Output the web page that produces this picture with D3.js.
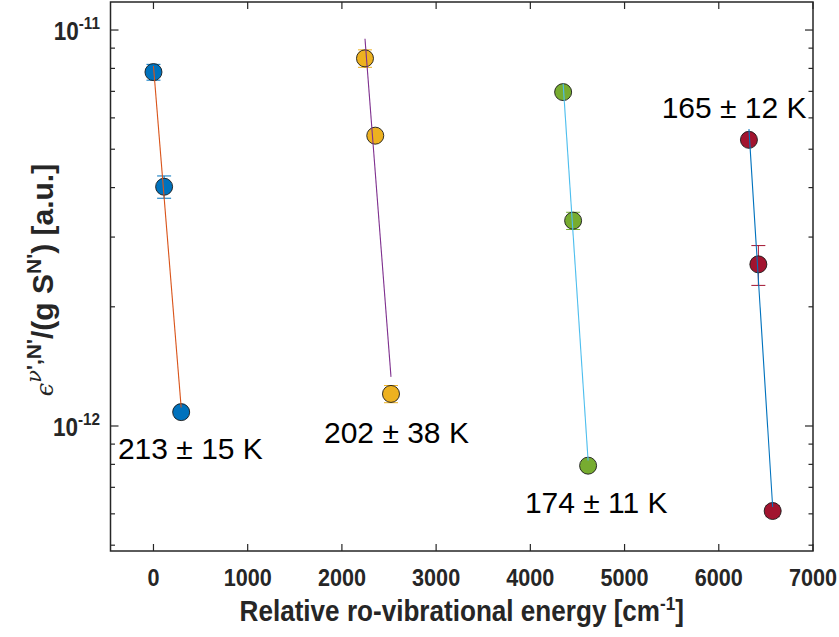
<!DOCTYPE html>
<html>
<head>
<meta charset="utf-8">
<script src="https://cdn.jsdelivr.net/npm/d3@7/dist/d3.min.js"></script>
<style>
  body { margin: 0; background: #fff; }
  .tick-label, .axis-title { font-family: "Liberation Sans", Arial, sans-serif; font-weight: bold; fill: #262626; }
  .note { font-family: "Liberation Sans", Arial, sans-serif; font-size: 30px; fill: #000; }
</style>
</head>
<body>
<svg id="chart" width="839" height="637"></svg>
<script>
// Rotational temperatures from the Boltzmann fits, in K
const temperatures = [213, 202, 174, 165];
const temperatureErrors = [15, 38, 11, 12];

// Relative ro-vibrational energy of each level, cm^-1
const energiesA = [0, 113, 294];
const energiesB = [2245, 2354, 2521];
const energiesC = [4348, 4454, 4613];
const energiesD = [6320, 6420, 6572];

// Normalised emissivity epsilon/(g S) [a.u.]
const valuesA = [7.83e-12, 4.02e-12, 1.084e-12];
const valuesB = [8.48e-12, 5.41e-12, 1.205e-12];
const valuesC = [6.97e-12, 3.30e-12, 7.94e-13];
const valuesD = [5.28e-12, 2.56e-12, 6.10e-13];

// Symmetric uncertainties on the emissivities
const errorsA = [0.36e-12, 0.26e-12, 0.03e-12];
const errorsB = [0.43e-12, 0.05e-12, 0.06e-12];
const errorsC = [0.05e-12, 0.165e-12, 0.02e-12];
const errorsD = [0.05e-12, 0.295e-12, 0.02e-12];

// Axis tick values
const xTickValues = [0, 1000, 2000, 3000, 4000, 5000, 6000, 7000];
const yMajorTicks = [1e-12, 1e-11];
const yMinorTicks = [5e-13, 6e-13, 7e-13, 8e-13, 9e-13,
                     2e-12, 3e-12, 4e-12, 5e-12, 6e-12, 7e-12, 8e-12, 9e-12];

// Where each temperature annotation sits, in data units (energy, emissivity)
const noteAnchors = [[-377, 8.25e-13], [1810, 9.04e-13], [3942, 6.02e-13], [5394, 6.01e-12]];

const markerColors = ["#0072BD", "#EDB120", "#77AC30", "#A2142F"];
const fitColors = ["#D95319", "#7E2F8E", "#4DBEEE", "#0072BD"];

const series = [
  { E: energiesA, v: valuesA, e: errorsA },
  { E: energiesB, v: valuesB, e: errorsB },
  { E: energiesC, v: valuesC, e: errorsC },
  { E: energiesD, v: valuesD, e: errorsD }
].map((s, i) => ({
  ...s,
  T: temperatures[i],
  dT: temperatureErrors[i],
  color: markerColors[i],
  fitColor: fitColors[i],
  points: s.E.map((E, j) => ({ E, v: s.v[j], err: s.e[j] }))
}));

const C2 = 1.4388; // second radiation constant, cm K

const svg = d3.select("#chart");
const plot = { left: 110.5, right: 813, top: 2, bottom: 551 };

const x = d3.scaleLinear().domain([-456, 7000]).range([plot.left, plot.right]);
const y = d3.scaleLog().domain([4.834e-13, 1.177e-11]).range([plot.bottom, plot.top]);

const axisColor = "#262626";
const squeeze = 0.9; // condensed look of the axis lettering

// Box ticks (inward) on all four sides
const tickG = svg.append("g").attr("stroke", axisColor).attr("stroke-width", 1.2);
xTickValues.forEach(t => {
  const px = x(t);
  tickG.append("line").attr("x1", px).attr("x2", px).attr("y1", plot.bottom).attr("y2", plot.bottom - 7);
  tickG.append("line").attr("x1", px).attr("x2", px).attr("y1", plot.top).attr("y2", plot.top + 7);
});
yMajorTicks.forEach(t => {
  const py = y(t);
  tickG.append("line").attr("x1", plot.left).attr("x2", plot.left + 8).attr("y1", py).attr("y2", py);
  tickG.append("line").attr("x1", plot.right).attr("x2", plot.right - 8).attr("y1", py).attr("y2", py);
});
yMinorTicks.forEach(t => {
  const py = y(t);
  tickG.append("line").attr("x1", plot.left).attr("x2", plot.left + 4.5).attr("y1", py).attr("y2", py);
  tickG.append("line").attr("x1", plot.right).attr("x2", plot.right - 4.5).attr("y1", py).attr("y2", py);
});

// Axes frame
svg.append("rect")
  .attr("x", plot.left).attr("y", plot.top)
  .attr("width", plot.right - plot.left).attr("height", plot.bottom - plot.top)
  .attr("fill", "none").attr("stroke", axisColor).attr("stroke-width", 1.5);

// X tick labels
svg.append("g").selectAll("text").data(xTickValues).join("text")
  .attr("class", "tick-label")
  .attr("transform", d => `translate(${x(d)},586) scale(${squeeze},1)`)
  .attr("text-anchor", "middle")
  .attr("font-size", 24)
  .text(d => d);

// Y tick labels as powers of ten
const yLab = svg.append("g").selectAll("text").data(yMajorTicks).join("text")
  .attr("class", "tick-label")
  .attr("transform", d => `translate(100,${y(d) + 10}) scale(${squeeze},1)`)
  .attr("text-anchor", "end")
  .attr("font-size", 25);
yLab.append("tspan").text("10");
yLab.append("tspan").attr("dy", -11).attr("font-size", 17).text(d => "-" + Math.round(-Math.log10(d)));

// X axis title
const xt = svg.append("text").attr("class", "axis-title")
  .attr("transform", `translate(${(plot.left + plot.right) / 2},621) scale(${squeeze},1)`)
  .attr("text-anchor", "middle").attr("font-size", 29);
xt.append("tspan").text("Relative ro-vibrational energy [cm");
xt.append("tspan").attr("dy", -11).attr("font-size", 19).text("-1");
xt.append("tspan").attr("dy", 11).text("]");

// Y axis title
const yt = svg.append("text").attr("class", "axis-title")
  .attr("transform", `translate(53,280) rotate(-90)`)
  .attr("text-anchor", "middle").attr("font-size", 30);
yt.append("tspan").attr("font-family", "DejaVu Serif, serif").attr("font-style", "italic").attr("font-weight", "normal").attr("font-size", 24).text("\u03F5");
yt.append("tspan").attr("dy", -12).attr("font-size", 21).attr("font-family", "DejaVu Serif, serif").attr("font-style", "italic").attr("font-weight", "normal").text("\u03BD");
yt.append("tspan").attr("font-size", 21).text("',N'");
yt.append("tspan").attr("dy", 12).text("/(g S");
yt.append("tspan").attr("dy", -12).attr("font-size", 21).text("N'");
yt.append("tspan").attr("dy", 12).text(") [a.u.]");

// Error bars and markers
series.forEach(s => {
  const g = svg.append("g");
  const bars = g.selectAll("g.bar").data(s.points).join("g").attr("class", "bar")
    .attr("stroke", s.color).attr("stroke-width", 1);
  bars.append("line")
    .attr("x1", d => x(d.E)).attr("x2", d => x(d.E))
    .attr("y1", d => y(d.v - d.err)).attr("y2", d => y(d.v + d.err));
  bars.append("line")
    .attr("x1", d => x(d.E) - 7).attr("x2", d => x(d.E) + 7)
    .attr("y1", d => y(d.v - d.err)).attr("y2", d => y(d.v - d.err));
  bars.append("line")
    .attr("x1", d => x(d.E) - 7).attr("x2", d => x(d.E) + 7)
    .attr("y1", d => y(d.v + d.err)).attr("y2", d => y(d.v + d.err));
  g.selectAll("circle").data(s.points).join("circle")
    .attr("cx", d => x(d.E)).attr("cy", d => y(d.v)).attr("r", 8.5)
    .attr("fill", s.color).attr("stroke", "#1a1a1a").attr("stroke-width", 0.9);
});

// Boltzmann fit lines: slope set by the stated temperature, intercept by least squares
series.forEach(s => {
  const k = C2 / s.T / Math.LN10;
  const b = d3.mean(s.points, p => Math.log10(p.v) + k * p.E);
  const [e0, e1] = d3.extent(s.E);
  const fit = [e0, e1].map(E => ({ E, v: Math.pow(10, b - k * E) }));
  svg.append("path").datum(fit)
    .attr("fill", "none").attr("stroke", s.fitColor).attr("stroke-width", 1.1)
    .attr("d", d3.line().x(d => x(d.E)).y(d => y(d.v)));
});

// Temperature annotations
series.forEach((s, i) => {
  svg.append("text").attr("class", "note")
    .attr("x", x(noteAnchors[i][0])).attr("y", y(noteAnchors[i][1]))
    .text(`${s.T} \u00B1 ${s.dT} K`);
});
</script>
</body>
</html>
